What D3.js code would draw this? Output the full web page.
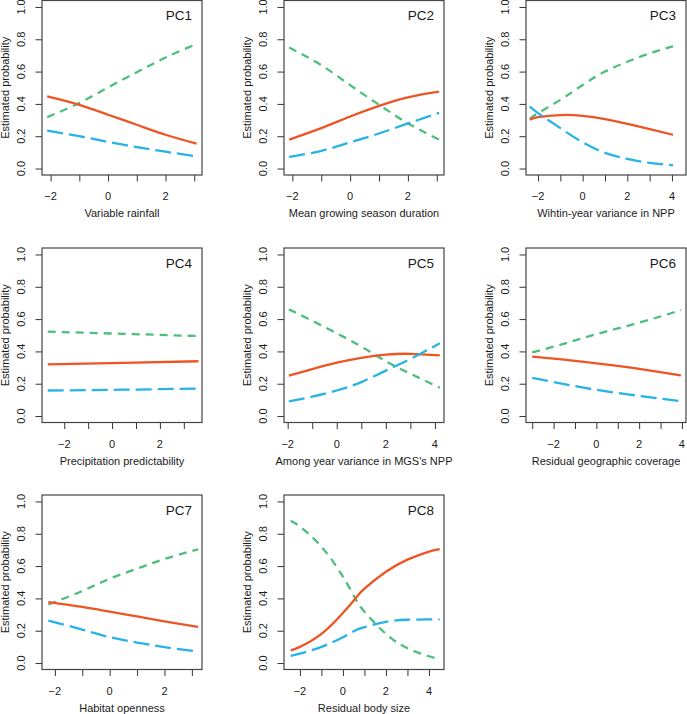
<!DOCTYPE html>
<html>
<head>
<meta charset="utf-8">
<script src="https://cdn.jsdelivr.net/npm/d3@7"></script>
<style>
  html, body { margin: 0; padding: 0; background: #ffffff; }
  svg { display: block; }
  text { font-family: "Liberation Sans", Arial, Helvetica, sans-serif; fill: #1a1a1a; }
</style>
</head>
<body>
<script>
// ---------------- DATA ----------------
const panelNames = ["PC1", "PC2", "PC3", "PC4", "PC5", "PC6", "PC7", "PC8"];
const xTitles = [
  "Variable rainfall",
  "Mean growing season duration",
  "Wihtin-year variance in NPP",
  "Precipitation predictability",
  "Among year variance in MGS's NPP",
  "Residual geographic coverage",
  "Habitat openness",
  "Residual body size"
];
// x-axis ranges (axis limits) of each panel
const xLims = [
  [-2.30, 3.27], [-2.29, 3.25], [-2.54, 4.63], [-2.93, 3.76],
  [-2.15, 4.37], [-3.29, 4.19], [-2.47, 3.37], [-2.74, 4.70]
];
const xTickValues = [
  [-2, -1, 0, 1, 2, 3], [-2, -1, 0, 1, 2, 3], [-2, -1, 0, 1, 2, 3, 4], [-2, -1, 0, 1, 2, 3],
  [-2, -1, 0, 1, 2, 3, 4], [-3, -2, -1, 0, 1, 2, 3, 4], [-2, -1, 0, 1, 2, 3], [-2, -1, 0, 1, 2, 3, 4]
];
const xTickLabels = [
  [-2, 0, 2], [-2, 0, 2], [-2, 0, 2, 4], [-2, 0, 2],
  [-2, 0, 2, 4], [-2, 0, 2, 4], [-2, 0, 2], [-2, 0, 2, 4]
];
const yTickValues = [0, 0.2, 0.4, 0.6, 0.8, 1.0];

// predictor values and estimated probabilities (solid orange, short-dash green, long-dash blue)
const pc1X      = [-2.12, -1, 0, 1, 2, 3.08];
const pc1Orange = [0.446, 0.394, 0.333, 0.271, 0.209, 0.154];
const pc1Green  = [0.318, 0.406, 0.502, 0.596, 0.687, 0.771];
const pc1Blue   = [0.235, 0.200, 0.165, 0.133, 0.104, 0.075];

const pc2X      = [-2.11, -1, 0, 1, 2, 3.08];
const pc2Orange = [0.179, 0.250, 0.322, 0.388, 0.441, 0.476];
const pc2Green  = [0.749, 0.640, 0.516, 0.395, 0.280, 0.179];
const pc2Blue   = [0.072, 0.110, 0.162, 0.217, 0.279, 0.345];

const pc3X      = [-2.37, -2, -1, 0, 1, 2, 3, 4.05];
const pc3Orange = [0.302, 0.318, 0.331, 0.326, 0.306, 0.277, 0.244, 0.209];
const pc3Green  = [0.308, 0.343, 0.425, 0.517, 0.600, 0.661, 0.713, 0.757];
const pc3Blue   = [0.384, 0.343, 0.250, 0.162, 0.097, 0.060, 0.035, 0.020];

const pc4X      = [-2.69, 0.45, 3.61];
const pc4Orange = [0.320, 0.329, 0.339];
const pc4Green  = [0.522, 0.509, 0.495];
const pc4Blue   = [0.158, 0.163, 0.170];

const pc5X      = [-1.95, -1, 0, 1, 2, 3, 4.2];
const pc5Orange = [0.250, 0.290, 0.330, 0.360, 0.380, 0.385, 0.375];
const pc5Green  = [0.660, 0.590, 0.512, 0.430, 0.339, 0.262, 0.175];
const pc5Blue   = [0.090, 0.120, 0.158, 0.210, 0.281, 0.353, 0.450];

const pc6X      = [-3.0, -1.5, 0, 2, 3.95];
const pc6Orange = [0.368, 0.349, 0.326, 0.292, 0.251];
const pc6Green  = [0.394, 0.448, 0.507, 0.578, 0.655];
const pc6Blue   = [0.236, 0.198, 0.162, 0.125, 0.092];

const pc7X      = [-2.24, -1, 0, 1, 2, 3.23];
const pc7Orange = [0.377, 0.347, 0.318, 0.289, 0.258, 0.224];
const pc7Green  = [0.362, 0.446, 0.522, 0.584, 0.644, 0.704];
const pc7Blue   = [0.263, 0.207, 0.160, 0.127, 0.098, 0.072];

const pc8X      = [-2.43, -2, -1, 0, 0.55, 1, 2, 3, 4, 4.5];
const pc8Orange = [0.078, 0.100, 0.180, 0.310, 0.395, 0.460, 0.565, 0.640, 0.690, 0.705];
const pc8Green  = [0.880, 0.845, 0.720, 0.535, 0.405, 0.318, 0.180, 0.092, 0.042, 0.026];
const pc8Blue   = [0.045, 0.058, 0.100, 0.160, 0.200, 0.222, 0.255, 0.268, 0.270, 0.270];

const panelX      = [pc1X, pc2X, pc3X, pc4X, pc5X, pc6X, pc7X, pc8X];
const panelOrange = [pc1Orange, pc2Orange, pc3Orange, pc4Orange, pc5Orange, pc6Orange, pc7Orange, pc8Orange];
const panelGreen  = [pc1Green, pc2Green, pc3Green, pc4Green, pc5Green, pc6Green, pc7Green, pc8Green];
const panelBlue   = [pc1Blue, pc2Blue, pc3Blue, pc4Blue, pc5Blue, pc6Blue, pc7Blue, pc8Blue];

// ---------------- LAYOUT / STYLE ----------------
const W = 687, H = 714;
const colLeft = [42, 284, 526];
const rowTop = [0.5, 248, 495];
const boxW = 160, boxH = 174.5;
const tickLen = 6.5;
const fontSize = 11;
const seriesStyle = [
  { key: "green",  color: "#4DBE7B", dash: "8,6",  width: 2.3 },
  { key: "orange", color: "#EE5424", dash: null,   width: 2.3 },
  { key: "blue",   color: "#26B3E6", dash: "16,6", width: 2.3 }
];

const svg = d3.select("body").append("svg").attr("width", W).attr("height", H);
const fmtX = v => (v < 0 ? "\u2212" + Math.abs(v) : String(v));

panelNames.forEach((name, i) => {
  const col = i % 3, row = Math.floor(i / 3);
  const g = svg.append("g").attr("transform", `translate(${colLeft[col]},${rowTop[row]})`);
  const x = d3.scaleLinear().domain(xLims[i]).range([0, boxW]);
  const yPad = 0.04;
  const y = d3.scaleLinear().domain([0 - yPad, 1 + yPad]).range([boxH, 0]);

  const clipId = "clip" + i;
  g.append("clipPath").attr("id", clipId).append("rect").attr("width", boxW).attr("height", boxH);

  const series = { orange: panelOrange[i], green: panelGreen[i], blue: panelBlue[i] };
  const line = d3.line().x(d => x(d[0])).y(d => y(d[1])).curve(d3.curveNatural);
  const lg = g.append("g").attr("clip-path", `url(#${clipId})`);
  seriesStyle.forEach(s => {
    const pts = panelX[i].map((xv, k) => [xv, series[s.key][k]]);
    const p = lg.append("path").datum(pts)
      .attr("d", line)
      .attr("fill", "none")
      .attr("stroke", s.color)
      .attr("stroke-width", s.width)
      .attr("stroke-linecap", "butt");
    if (s.dash) p.attr("stroke-dasharray", s.dash);
  });

  const xa = g.append("g").attr("transform", `translate(0,${boxH})`)
    .call(d3.axisBottom(x).tickValues(xTickValues[i]).tickSize(tickLen).tickFormat(""));
  xa.select(".domain").remove();
  xa.selectAll("line").attr("stroke", "#333").attr("stroke-width", 1);
  g.selectAll(".xlab").data(xTickLabels[i]).enter().append("text")
    .attr("x", d => x(d)).attr("y", boxH + 25)
    .attr("text-anchor", "middle").attr("font-size", fontSize)
    .text(d => fmtX(d));

  const ya = g.append("g")
    .call(d3.axisLeft(y).tickValues(yTickValues).tickSize(tickLen).tickFormat(""));
  ya.select(".domain").remove();
  ya.selectAll("line").attr("stroke", "#333").attr("stroke-width", 1);
  g.selectAll(".ylab").data(yTickValues).enter().append("text")
    .attr("transform", d => `translate(-21,${y(d)}) rotate(-90)`)
    .attr("dy", "0.35em")
    .attr("text-anchor", "middle").attr("font-size", fontSize)
    .text(d => d.toFixed(1));

  g.append("rect").attr("width", boxW).attr("height", boxH)
    .attr("fill", "none").attr("stroke", "#444").attr("stroke-width", 1.2);

  g.append("text").attr("x", boxW / 2).attr("y", boxH + 42)
    .attr("text-anchor", "middle").attr("font-size", fontSize).text(xTitles[i]);
  g.append("text").attr("transform", `translate(-37,${boxH / 2}) rotate(-90)`)
    .attr("dy", "0.35em")
    .attr("text-anchor", "middle").attr("font-size", fontSize).text("Estimated probability");
  g.append("text").attr("x", boxW - 10).attr("y", 19.5)
    .attr("text-anchor", "end").attr("font-size", 13.5).text(name);
});
</script>
</body>
</html>
